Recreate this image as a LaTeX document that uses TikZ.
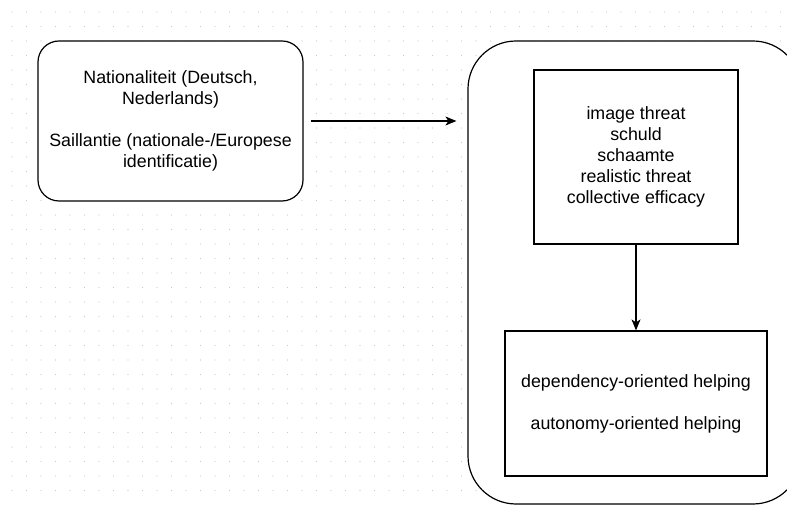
\documentclass[tikz,border=0pt]{standalone}
\usepackage{fontspec}
\setmainfont{Liberation Sans}
\usetikzlibrary{positioning}
\usetikzlibrary{arrows.meta}
\definecolor{griddot}{RGB}{200,200,200}

\begin{document}
\begin{tikzpicture}[
    x=1pt, y=-1pt,
    line width=1.2pt,
    font=\fontsize{17.8}{21}\selectfont
]
\tikzset{
    roundbox/.style = {draw=black, fill=white, rounded corners=21pt, align=center, inner sep=0pt},
    groupbox/.style = {draw=black, fill=white, rounded corners=48pt, inner sep=0pt},
    plainbox/.style = {draw=black, fill=white, align=center, inner sep=0pt},
    edgea/.style = {-{Stealth[length=11pt,width=9pt,inset=3pt]}, black}
}
\useasboundingbox (0,0) rectangle (787,518);
\clip (0,0) rectangle (787,518);
% dotted grid
\foreach \i in {0,...,53}
  \foreach \j in {0,...,33}
    \fill[griddot] ({12+14.5*\i},{12+14.5*\j}) circle (0.7pt);
\node[roundbox, minimum width=265pt, minimum height=160pt] at (170.5,121) (nat)
    {Nationaliteit (Deutsch,\\ Nederlands)\\[21pt] Saillantie (nationale-/Europese\\ identificatie)};
\node[groupbox, minimum width=333pt, minimum height=463pt] at (634.5,272.5) (grp) {};
\node[plainbox, minimum width=204pt, minimum height=174pt] at (636,157) (med)
    {image threat\\ schuld\\ schaamte\\ realistic threat\\ collective efficacy};
\node[plainbox, minimum width=262pt, minimum height=145pt] at (636,403.5) (help)
    {dependency-oriented helping\\[21pt] autonomy-oriented helping};
\draw[edgea, shorten <=7pt, shorten >=11pt] (nat.east) -- (nat.east -| grp.west);
\draw[edgea] (med) -- (help);
\end{tikzpicture}
\end{document}
